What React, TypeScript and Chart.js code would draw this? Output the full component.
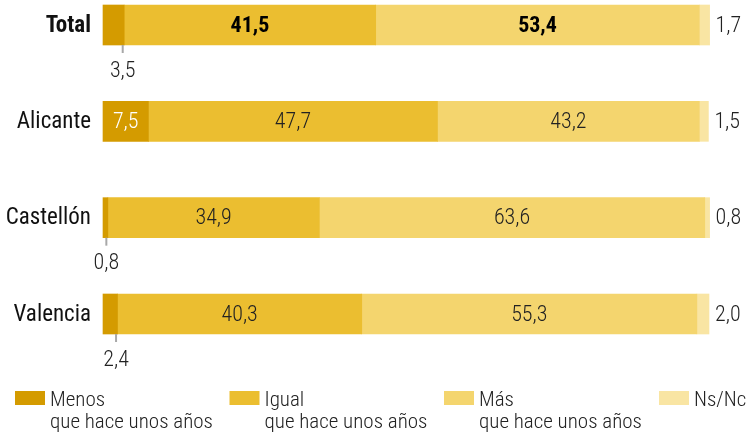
import React, { useEffect, useRef } from "react";
import { Chart, registerables } from "chart.js";

Chart.register(...registerables);

const categories = ["Total", "Alicante", "Castellón", "Valencia"];
const menos = [3.5, 7.5, 0.8, 2.4];
const igual = [41.5, 47.7, 34.9, 40.3];
const mas = [53.4, 43.2, 63.6, 55.3];
const nsnc = [1.7, 1.5, 0.8, 2.0];
const seriesNames = ["Menos", "Igual", "Más", "Ns/Nc"];
const seriesSubtitles = ["que hace unos años", "que hace unos años", "que hace unos años", ""];
const colors = ["#D49B00", "#EBBE30", "#F4D56E", "#F9E5A3"];

const FONT = "'Roboto Condensed', 'Liberation Sans Narrow', 'DejaVu Sans Condensed', Roboto, sans-serif";

const fmt = (v: number) => v.toFixed(1).replace(".", ",");

const labelsPlugin = {
  id: "customLabels",
  afterDatasetsDraw(chart: any) {
    const ctx = chart.ctx as CanvasRenderingContext2D;
    const yScale = chart.scales.y;
    ctx.save();
    // category labels
    ctx.textAlign = "right";
    ctx.textBaseline = "middle";
    categories.forEach((c, i) => {
      const y = yScale.getPixelForValue(i);
      ctx.font = (i === 0 ? "700 " : "400 ") + "23px " + FONT;
      ctx.fillStyle = "#111";
      ctx.fillText(c, chart.chartArea.left - 12, y + 1);
    });
    // value labels
    chart.data.datasets.forEach((ds: any, di: number) => {
      const meta = chart.getDatasetMeta(di);
      meta.data.forEach((bar: any, i: number) => {
        const v = ds.data[i] as number;
        const props = bar.getProps(["x", "y", "base", "height"], true);
        const left = Math.min(props.x, props.base);
        const right = Math.max(props.x, props.base);
        const cx = (left + right) / 2;
        const cy = props.y;
        const bottom = cy + props.height / 2;
        const bold = i === 0;
        const text = fmt(v);
        if (di === 0) {
          if (v >= 5) {
            ctx.font = "300 22px " + FONT;
            ctx.fillStyle = "#ffffff";
            ctx.textAlign = "center";
            ctx.textBaseline = "middle";
            ctx.fillText(text, cx, cy + 1);
          } else {
            const tx = right - 1.5;
            ctx.strokeStyle = "#a8a8a8";
            ctx.lineWidth = 2;
            ctx.beginPath();
            ctx.moveTo(tx, bottom);
            ctx.lineTo(tx, bottom + 8);
            ctx.stroke();
            ctx.font = "300 22px " + FONT;
            ctx.fillStyle = "#222";
            ctx.textAlign = "center";
            ctx.textBaseline = "middle";
            ctx.fillText(text, tx, bottom + 26);
          }
        } else if (di === 3) {
          ctx.font = "300 22px " + FONT;
          ctx.fillStyle = "#222";
          ctx.textAlign = "left";
          ctx.textBaseline = "middle";
          ctx.fillText(text, right + 6, cy + 1);
        } else {
          ctx.font = (bold ? "700 " : "300 ") + "22px " + FONT;
          ctx.fillStyle = bold ? "#000" : "#222";
          ctx.textAlign = "center";
          ctx.textBaseline = "middle";
          ctx.fillText(text, cx, cy + 1);
        }
      });
    });
    // legend
    const legendX = [15, 229.5, 444, 659];
    seriesNames.forEach((name, i) => {
      const x = legendX[i];
      ctx.fillStyle = colors[i];
      ctx.fillRect(x, 391, 30, 14);
      ctx.font = "300 21px " + FONT;
      ctx.fillStyle = "#222";
      ctx.textAlign = "left";
      ctx.textBaseline = "alphabetic";
      ctx.fillText(name, x + 35, 406);
      if (seriesSubtitles[i]) ctx.fillText(seriesSubtitles[i], x + 35, 428);
    });
    ctx.restore();
  },
};

export default function App() {
  const ref = useRef<HTMLCanvasElement | null>(null);
  useEffect(() => {
    if (!ref.current) return;
    const series = [menos, igual, mas, nsnc];
    const chart = new Chart(ref.current, {
      type: "bar",
      data: {
        labels: categories,
        datasets: series.map((d, i) => ({
          label: seriesNames[i],
          data: d,
          backgroundColor: colors[i],
          borderWidth: 0,
          barThickness: 40,
          clip: false as any,
        })),
      },
      options: {
        indexAxis: "y",
        animation: false,
        responsive: true,
        maintainAspectRatio: false,
        layout: { padding: { left: 103, right: 40, top: 25, bottom: 121 } },
        scales: {
          x: { stacked: true, min: 0, max: 100, display: false },
          y: { stacked: true, offset: false, display: false },
        },
        plugins: {
          legend: { display: false },
          tooltip: { enabled: false },
        },
      },
      plugins: [labelsPlugin],
    });
    return () => chart.destroy();
  }, []);
  return (
    <div style={{ position: "absolute", left: 0, top: 0, width: 749, height: 435 }}>
      <canvas ref={ref} />
    </div>
  );
}
